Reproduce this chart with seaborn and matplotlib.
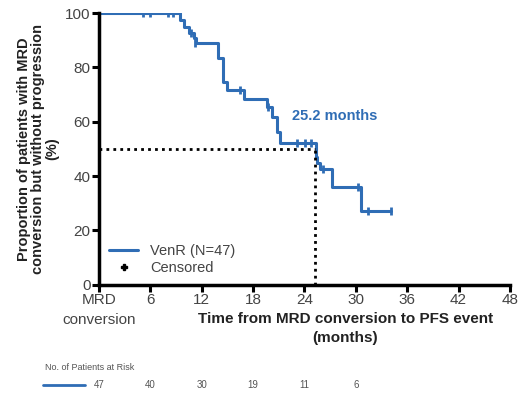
import matplotlib
matplotlib.use("Agg")
import matplotlib.pyplot as plt
import matplotlib.transforms as mtransforms
import seaborn as sns
import pandas as pd
from matplotlib.lines import Line2D

# Kaplan-Meier step curve (months, % without progression)
step_months = [0, 9.5, 9.9, 10.5, 11.1, 11.3, 13.9, 14.5, 14.9, 16.9,
               19.6, 20.2, 20.8, 21.1, 25.3, 25.5, 25.8, 27.2, 30.6, 34.1]
step_surv = [100, 97.4, 95.0, 92.5, 90.7, 88.8, 83.3, 74.7, 71.7, 68.3,
             65.6, 61.9, 56.4, 52.1, 47.2, 44.7, 42.5, 36.0, 27.0, 27.0]

# Censored observations
censor_months = [5.1, 6.0, 8.1, 8.7, 10.8, 11.2, 16.5, 19.8, 23.1, 24.1, 24.8, 26.2, 30.3, 31.4, 34.1]
censor_surv = [100, 100, 100, 100, 92.5, 88.8, 71.7, 65.6, 52.1, 52.1, 52.1, 42.5, 36.0, 27.0, 27.0]

median_months = 25.2
median_label = "25.2 months"

x_ticks = [0, 6, 12, 18, 24, 30, 36, 42, 48]
x_ticklabels = ["MRD\nconversion", "6", "12", "18", "24", "30", "36", "42", "48"]
y_ticks = [0, 20, 40, 60, 80, 100]

risk_months = [0, 6, 12, 18, 24, 30]
risk_counts = [47, 40, 30, 19, 11, 6]

blue = "#2f6db5"

sns.set_theme(style="white")
plt.rcParams["font.family"] = ["Liberation Sans", "DejaVu Sans"]

fig = plt.figure(figsize=(5.24, 3.94), dpi=100)
ax = fig.add_axes([0.189, 0.277, 0.784, 0.690])

curve = pd.DataFrame({"month": step_months, "surv": step_surv})
sns.lineplot(data=curve, x="month", y="surv", drawstyle="steps-post",
             color=blue, linewidth=2.2, ax=ax, legend=False)

cens = pd.DataFrame({"month": censor_months, "surv": censor_surv})
sns.scatterplot(data=cens, x="month", y="surv", marker="|", s=40,
                color=blue, linewidth=2.0, ax=ax, legend=False, zorder=4)

# Median reference lines
ax.plot([0, median_months], [50, 50], color="black", linestyle=(0, (1, 1.5)),
        linewidth=2.0, zorder=2)
ax.plot([median_months, median_months], [0, 50], color="black",
        linestyle=(0, (1, 1.5)), linewidth=2.0, zorder=2)
ax.text(22.6, 62, median_label, color=blue, fontsize=10.5, fontweight="bold",
        ha="left", va="center")

ax.set_xlim(0, 48)
ax.set_ylim(0, 100)
ax.set_xticks(x_ticks)
ax.set_xticklabels(x_ticklabels, fontsize=11, color="#444444")
ax.get_xticklabels()[0].set_linespacing(1.5)
ax.set_yticks(y_ticks)
ax.set_yticklabels([str(v) for v in y_ticks], fontsize=11, color="#444444")
ax.tick_params(axis="both", direction="out", length=5, width=2.2,
               color="black", pad=1, bottom=True, left=True)
for side in ["top", "right"]:
    ax.spines[side].set_visible(False)
for side in ["left", "bottom"]:
    ax.spines[side].set_linewidth(2.5)
    ax.spines[side].set_color("black")

ax.set_ylabel("Proportion of patients with MRD\nconversion but without progression\n(%)",
              fontsize=10.5, fontweight="bold", color="#222222", labelpad=4,
              linespacing=1.05)
ax.set_xlabel("Time from MRD conversion to PFS event\n(months)", fontsize=11,
              fontweight="bold", color="#222222", linespacing=1.5)
ax.xaxis.set_label_coords(0.60, -0.098)
ax.xaxis.label.set_va("top")

handles = [Line2D([0], [0], color=blue, linewidth=2.2),
           Line2D([0], [0], color="black", marker="P", linestyle="none", markersize=5)]
ax.legend(handles, ["VenR (N=47)", "Censored"], loc="lower left",
          bbox_to_anchor=(0.0, 0.0), frameon=False, fontsize=10.5,
          labelcolor="#444444", handlelength=2.0, borderaxespad=0.3,
          labelspacing=0.15)

# Number-at-risk table
fig.text(45 / 524, 1 - 367 / 394, "No. of Patients at Risk", fontsize=6.5,
         color="#555555", ha="left", va="center")
fig.add_artist(Line2D([43 / 524, 85 / 524], [1 - 385 / 394, 1 - 385 / 394],
                      color=blue, linewidth=2.0))
risk_trans = mtransforms.blended_transform_factory(ax.transData, fig.transFigure)
for m, n in zip(risk_months, risk_counts):
    ax.text(m, 1 - 385 / 394, str(n), transform=risk_trans, fontsize=7,
            color="#555555", ha="center", va="center", clip_on=False)

fig.savefig("out.png", dpi=100)
